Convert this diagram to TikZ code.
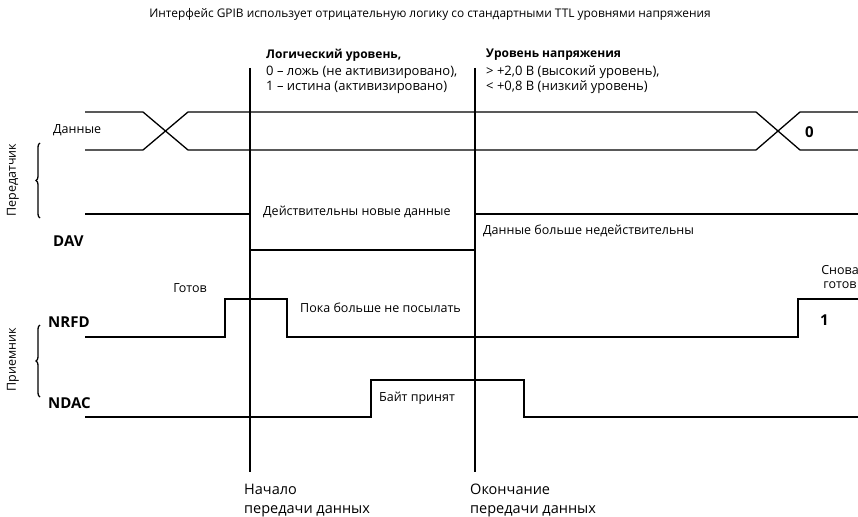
\documentclass[tikz,border=0pt]{standalone}
\usepackage{fontspec}
\setmainfont{Open Sans}
\usetikzlibrary{decorations.pathreplacing}

\begin{document}
\begin{tikzpicture}[x=1pt,y=-1pt,
  wave/.style={line width=1.3pt, line join=miter},
  marker/.style={line width=1.7pt},
  lbl/.style={font=\fontsize{12.5}{14}\selectfont, inner sep=0pt, anchor=west},
  legend/.style={font=\fontsize{13}{15}\selectfont, inner sep=0pt, anchor=west},
  caption/.style={font=\fontsize{14.5}{19}\selectfont, inner sep=0pt, align=left, anchor=north west},
  sig/.style={font=\bfseries\fontsize{15}{17}\selectfont, inner sep=0pt, anchor=west},
  head/.style={font=\bfseries\fontsize{12}{14}\selectfont, inner sep=0pt, anchor=west},
  grp/.style={font=\fontsize{12.5}{14}\selectfont, inner sep=0pt, rotate=90},
  bracebar/.style={line width=1.3pt, decorate, decoration={brace, amplitude=4pt}}]
\useasboundingbox (0,0) rectangle (858,516);

% title
\node[font=\fontsize{11.9}{14}\selectfont, inner sep=0pt] (title) at (430,14)
  {Интерфейс GPIB использует отрицательную логику со стандартными TTL уровнями напряжения};

% start / end markers
\coordinate (s0) at (250,68);  \coordinate (s1) at (250,472);
\coordinate (e0) at (475,68);  \coordinate (e1) at (475,472);
\draw[marker] (s0) -- (s1);
\draw[marker] (e0) -- (e1);

% legend above the waveforms
\node[head]   (lh) at (266,55) {Логический уровень,};
\node[legend] (l0) at (266,72) {0 -- ложь (не активизировано),};
\node[legend] (l1) at (266,87) {1 -- истина (активизировано)};
\node[head]   (vh) at (486,55) {Уровень напряжения};
\node[legend] (v0) at (486,72) {> +2,0 В (высокий уровень),};
\node[legend] (v1) at (486,87) {< +0,8 В (низкий уровень)};

% data bus
\draw[wave] (85,112) -- (143,112) -- (188,150) -- (756,150) -- (800,112) -- (858,112);
\draw[wave] (85,150) -- (143,150) -- (188,112) -- (756,112) -- (800,150) -- (858,150);
\node[lbl] (dlab) at (53,130) {Данные};
\node[sig] (zero) at (805,132) {0};

% DAV
\draw[wave] (85,214) -- (250,214) -- (250,250) -- (475,250) -- (475,214) -- (858,214);
\node[sig] (dav) at (53,241) {DAV};
\node[lbl] (dvalid) at (263,212) {Действительны новые данные};
\node[lbl] (dinval) at (483,231) {Данные больше недействительны};

% NRFD
\draw[wave] (85,337) -- (225,337) -- (225,299) -- (287,299) -- (287,337) -- (798,337) -- (798,299) -- (858,299);
\node[sig] (nrfd) at (48,322) {NRFD};
\node[lbl, anchor=center] (ready) at (190,288) {Готов};
\node[lbl] (hold) at (300,308) {Пока больше не посылать};
\node[lbl, anchor=center, align=center] (again) at (840,277) {Снова\\готов};
\node[sig] (one) at (820,320) {1};

% NDAC
\draw[wave] (85,417) -- (371,417) -- (371,380) -- (524,380) -- (524,417) -- (858,417);
\node[sig] (ndac) at (48,403) {NDAC};
\node[lbl] (byte) at (379,398) {Байт принят};

% group braces
\draw[bracebar] (40,218) -- (40,143);
\node[grp] (tx) at (13,180) {Передатчик};
\draw[bracebar] (40,397) -- (40,325);
\node[grp] (rx) at (13,360) {Приемник};

% marker captions
\node[caption] (begin) at (244,484) {Начало\\передачи данных};
\node[caption] (finish) at (470,484) {Окончание\\передачи данных};
\end{tikzpicture}
\end{document}
